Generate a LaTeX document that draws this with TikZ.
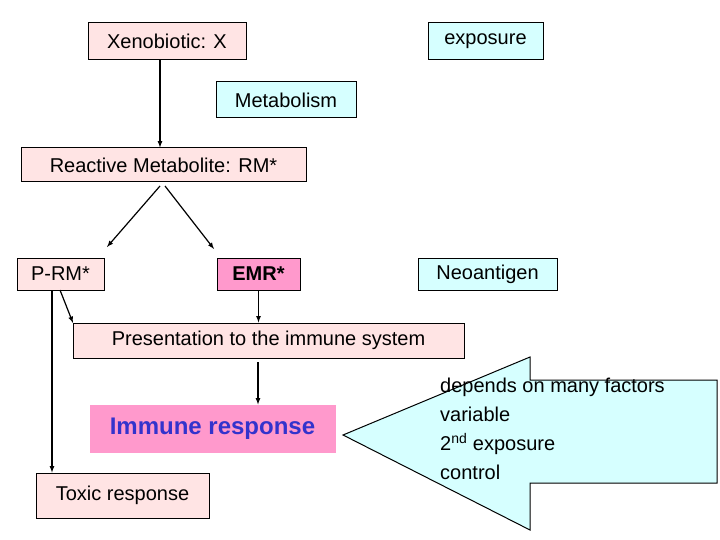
\documentclass[tikz,border=0pt]{standalone}
\usepackage{fontspec}
\setmainfont{Liberation Sans}
\usepackage{xcolor}
\definecolor{boxpink}{RGB}{255,228,228}
\definecolor{boxcyan}{RGB}{214,255,255}
\definecolor{boxmag}{RGB}{255,153,204}
\definecolor{txtblue}{RGB}{51,51,204}
\begin{document}
\begin{tikzpicture}[x=1pt,y=-1pt,
  box/.style={draw, line width=1pt, inner sep=0pt, font=\fontsize{20}{24}\selectfont},
  arr/.style={-latex, line width=1.2pt}]
\useasboundingbox (0,0) rectangle (720,540);
% Boxes
\node[box, fill=boxpink, minimum width=158, minimum height=37] (xeno) at (167,41.5) {Xenobiotic: X};
\node[box, fill=boxcyan, minimum width=115, minimum height=37] (expo) at (485.5,41.5) {exposure};
\node[box, fill=boxcyan, minimum width=140, minimum height=36] (meta) at (286,100) {Metabolism};
\node[box, fill=boxpink, minimum width=285, minimum height=34] (rm) at (163.5,165) {Reactive Metabolite: RM*};
\node[box, fill=boxpink, minimum width=87, minimum height=32] (prm) at (60.5,274) {P-RM*};
\node[box, fill=boxmag, minimum width=83, minimum height=32, font=\fontsize{20}{24}\selectfont\bfseries] (emr) at (258.5,274) {EMR*};
\node[box, fill=boxcyan, minimum width=139, minimum height=32] (neo) at (487.5,274) {Neoantigen};
\node[box, fill=boxpink, minimum width=391, minimum height=35] (pres) at (268.5,340.5) {Presentation to the immune system};
\node[box, draw=boxmag, fill=boxmag, minimum width=245, minimum height=47, text=txtblue, font=\fontsize{24}{28}\selectfont\bfseries] (imm) at (212.5,428.5) {Immune response};
\node[box, fill=boxpink, minimum width=173, minimum height=45] (tox) at (122.5,495.5) {Toxic response};
% Big arrow
\draw[line width=1pt, fill=boxcyan] (343,435) -- (530,357) -- (530,380) -- (717,380) -- (717,483) -- (530,483) -- (530,530) -- cycle;
\node[anchor=north west, align=left, inner sep=0pt, font=\fontsize{20}{29}\selectfont] (fac) at (440,378)
  {depends on many factors\\variable\\2\textsuperscript{nd} exposure\\control};
% Connectors
\coordinate (rmL) at (160,186);
\coordinate (rmR) at (165,186);
\coordinate (prmA) at (60,290);
\coordinate (prmB) at (52,290);
\draw[arr] (xeno.south -| 160,0) -- (rm.north -| 160,0);
\draw[arr] (rmL) -- (107,247);
\draw[arr] (rmR) -- (214,249);
\draw[arr] (emr.south) -- (pres.north -| emr.south);
\draw[arr] (prmA) -- (73,323);
\draw[arr] (prmB) -- (tox.north -| prmB);
\draw[arr] (258,362) -- (imm.north -| 258,0);
\end{tikzpicture}
\end{document}
